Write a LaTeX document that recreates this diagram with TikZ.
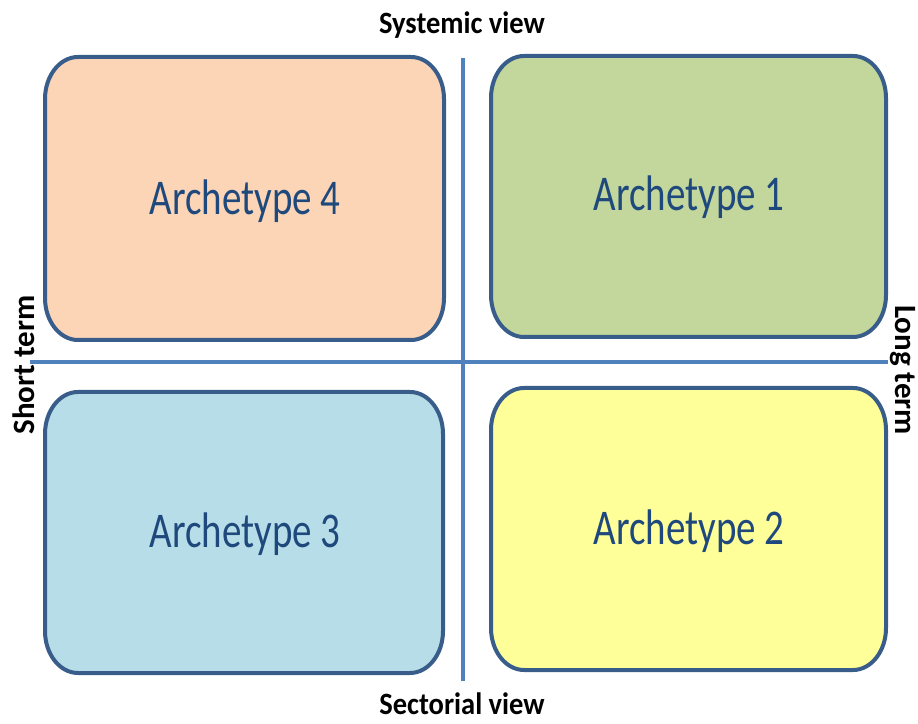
\documentclass[tikz,border=0pt]{standalone}
\usepackage{fontspec}
\usepackage{graphicx}
\setmainfont{Carlito}
\definecolor{edgeblue}{HTML}{385D8A}
\definecolor{axisblue}{HTML}{4F81BD}
\definecolor{txtblue}{HTML}{1F497D}
\definecolor{fillpeach}{HTML}{FBD5B5}
\definecolor{fillgreen}{HTML}{C3D69B}
\definecolor{fillcyan}{HTML}{B7DEE8}
\definecolor{fillyellow}{HTML}{FFFF99}
\tikzset{
  boxline/.style={draw=edgeblue, line width=4pt},
  axisline/.style={draw=axisblue, line width=4.5pt},
  archtext/.style={text=txtblue, inner sep=0pt, font=\fontsize{50}{60}\selectfont},
  sidelabel/.style={text=black, inner sep=0pt, font=\bfseries\fontsize{31}{36}\selectfont},
}
% rounded box with elliptic corners; args: x1 ytop x2 ybottom (pixel coords, y down), fill
\newcommand\rrbox[5]{%
  \filldraw[boxline, fill=#5]
    (#1+33,723-#2) -- (#3-33,723-#2)
    arc[start angle=90, end angle=0, x radius=33, y radius=42]
    -- (#3,723-#4+42)
    arc[start angle=0, end angle=-90, x radius=33, y radius=42]
    -- (#1+33,723-#4)
    arc[start angle=270, end angle=180, x radius=33, y radius=42]
    -- (#1,723-#2-42)
    arc[start angle=180, end angle=90, x radius=33, y radius=42]
    -- cycle;}
\begin{document}
\begin{tikzpicture}[x=1pt,y=1pt]
\useasboundingbox (0,0) rectangle (918,723);
% axes
\coordinate (hl) at (30,723-362);
\coordinate (hr) at (888,723-362);
\coordinate (vt) at (463,723-58);
\coordinate (vb) at (463,723-681);
\draw[axisline] (hl) -- (hr);
\draw[axisline] (vt) -- (vb);
% boxes
\rrbox{45}{57}{444}{340}{fillpeach}
\rrbox{491}{56}{886}{337}{fillgreen}
\rrbox{45}{392}{443}{673}{fillcyan}
\rrbox{491}{388}{886}{670}{fillyellow}
\node[archtext] (a4) at (245,723-201) {\scalebox{0.78}[1]{Archetype 4}};
\node[archtext] (a1) at (689,723-197) {\scalebox{0.78}[1]{Archetype 1}};
\node[archtext] (a3) at (245,723-534) {\scalebox{0.78}[1]{Archetype 3}};
\node[archtext] (a2) at (689,723-531) {\scalebox{0.78}[1]{Archetype 2}};
% axis labels
\node[sidelabel] (top) at (462,723-25) {\scalebox{0.92}[1]{Systemic view}};
\node[sidelabel] (bottom) at (462,723-704) {\scalebox{0.92}[1]{Sectorial view}};
\node[sidelabel, rotate=90] (left) at (24,723-365) {Short term};
\node[sidelabel, rotate=-90] (right) at (903,723-370) {Long term};
\end{tikzpicture}
\end{document}
